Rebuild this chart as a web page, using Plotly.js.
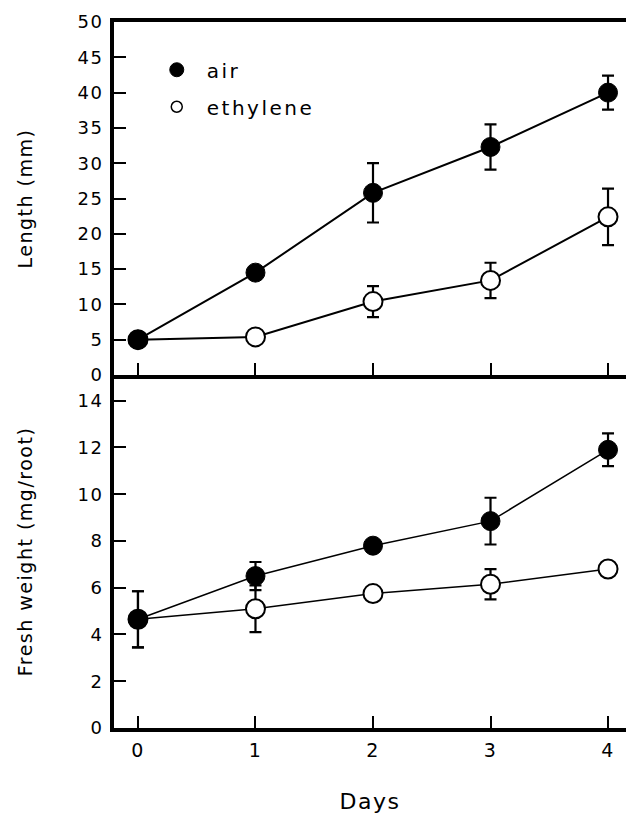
<!DOCTYPE html>
<html>
<head>
<meta charset="utf-8">
<script src="https://cdn.plot.ly/plotly-3.0.1.min.js"></script>
<style>
  html, body { margin: 0; padding: 0; background: #fff; }
  #chart { width: 628px; height: 814px; }
  .main-svg text { letter-spacing: 1.5px; }
  .legendtext { letter-spacing: 2.5px !important; }
</style>
</head>
<body>
<div id="chart"></div>
<script>
// Data
const days = [0, 1, 2, 3, 4];
const dayTicks = ['0', '1', '2', '3', '4'];

// Length (mm)
const lengthAir = [5.0, 14.5, 25.8, 32.3, 40.0];
const lengthAirErr = [0, 0, 4.2, 3.2, 2.4];
const lengthEth = [5.0, 5.4, 10.4, 13.4, 22.4];
const lengthEthErr = [0, 0, 2.2, 2.5, 4.0];

// Fresh weight (mg/root)
const fwAir = [4.65, 6.5, 7.8, 8.85, 11.9];
const fwAirErr = [1.2, 0.6, 0, 1.0, 0.7];
const fwEth = [4.65, 5.1, 5.75, 6.15, 6.8];
const fwEthErr = [1.2, 1.0, 0, 0.65, 0];

const seriesNames = ['air', 'ethylene'];

const FONT = 'DejaVu Sans, Arial, sans-serif';

function errObj(arr) {
  return { type: 'data', array: arr, visible: true, color: '#000', thickness: 2.2, width: 6 };
}

const traces = [
  // top panel (length)
  { x: days, y: lengthEth, error_y: errObj(lengthEthErr), xaxis: 'x2', yaxis: 'y2',
    mode: 'lines+markers', name: seriesNames[1], showlegend: false,
    line: { color: '#000', width: 2 },
    marker: { symbol: 'circle', size: 19, color: '#fff', line: { color: '#000', width: 2 } } },
  { x: days, y: lengthAir, error_y: errObj(lengthAirErr), xaxis: 'x2', yaxis: 'y2',
    mode: 'lines+markers', name: seriesNames[0], showlegend: false,
    line: { color: '#000', width: 2 },
    marker: { symbol: 'circle', size: 19, color: '#000', line: { color: '#000', width: 1 } } },
  // bottom panel (fresh weight)
  { x: days, y: fwEth, error_y: errObj(fwEthErr), xaxis: 'x', yaxis: 'y',
    mode: 'lines+markers', name: seriesNames[1], showlegend: false,
    line: { color: '#000', width: 1.5 },
    marker: { symbol: 'circle', size: 19, color: '#fff', line: { color: '#000', width: 2 } } },
  { x: days, y: fwAir, error_y: errObj(fwAirErr), xaxis: 'x', yaxis: 'y',
    mode: 'lines+markers', name: seriesNames[0], showlegend: false,
    line: { color: '#000', width: 1.5 },
    marker: { symbol: 'circle', size: 19, color: '#000', line: { color: '#000', width: 1 } } },
  // legend-only entries (markers only, as in the original key)
  { x: [null], y: [null], xaxis: 'x2', yaxis: 'y2', mode: 'markers', name: seriesNames[0],
    legendgroup: 'a', legendrank: 1,
    marker: { symbol: 'circle', size: 14, color: '#000', line: { color: '#000', width: 1 } } },
  { x: [null], y: [null], xaxis: 'x2', yaxis: 'y2', mode: 'markers', name: seriesNames[1],
    legendgroup: 'b', legendrank: 2,
    marker: { symbol: 'circle', size: 11, color: '#fff', line: { color: '#000', width: 1.5 } } }
];

const axisCommon = {
  showline: true, linecolor: '#000', linewidth: 4,
  ticks: 'inside', ticklen: 12, tickwidth: 2, tickcolor: '#000',
  showgrid: false, zeroline: false,
  tickfont: { family: FONT, size: 18, color: '#000' }
};

const layout = {
  width: 628, height: 814,
  margin: { l: 114, r: 2, t: 22, b: 86 },
  paper_bgcolor: '#fff', plot_bgcolor: '#fff',
  font: { family: FONT, color: '#000' },
  showlegend: true,
  legend: {
    x: 0.064, y: 0.96, xanchor: 'left', yanchor: 'top',
    bgcolor: 'rgba(0,0,0,0)', borderwidth: 0,
    font: { family: FONT, size: 20, color: '#000' },
    itemwidth: 50, tracegroupgap: 8,
    traceorder: 'grouped'
  },
  xaxis: Object.assign({}, axisCommon, {
    domain: [0, 1], anchor: 'y', range: [-0.204, 4.153],
    tickvals: days, ticktext: dayTicks, ticklabelstandoff: 2,
    tickfont: { family: FONT, size: 19, color: '#000' },
    title: { text: 'Days', font: { family: FONT, size: 22, color: '#000' }, standoff: 38 }
  }),
  xaxis2: Object.assign({}, axisCommon, {
    domain: [0, 1], anchor: 'y2', matches: 'x', range: [-0.204, 4.153],
    tickvals: days, showticklabels: false, mirror: true
  }),
  yaxis: Object.assign({}, axisCommon, {
    domain: [0, 0.5], anchor: 'x', range: [0, 15.1],
    tickvals: [0, 2, 4, 6, 8, 10, 12, 14], ticklabelstandoff: 3,
    title: { text: 'Fresh weight (mg/root)', font: { family: FONT, size: 19, color: '#000' }, standoff: 44 }
  }),
  yaxis2: Object.assign({}, axisCommon, {
    domain: [0.5, 1], anchor: 'x2', range: [0, 50],
    tickvals: [0, 5, 10, 15, 20, 25, 30, 35, 40, 45, 50], ticklabelstandoff: 3,
    title: { text: 'Length (mm)', font: { family: FONT, size: 19, color: '#000' }, standoff: 44 }
  })
};

Plotly.newPlot('chart', traces, layout, { displayModeBar: false, staticPlot: true });
</script>
</body>
</html>
